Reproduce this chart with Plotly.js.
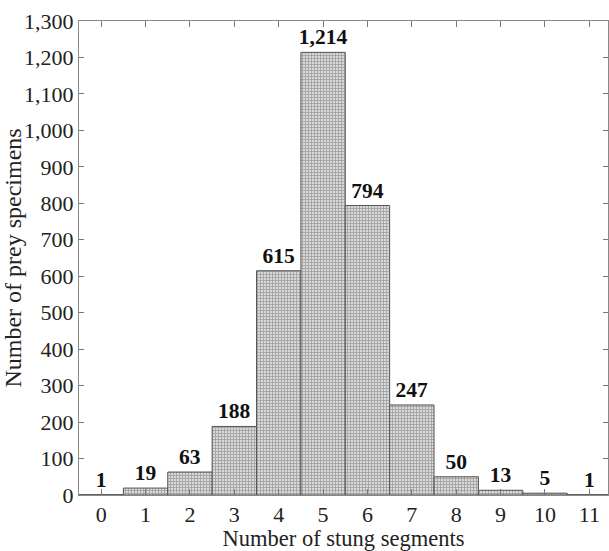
<!DOCTYPE html>
<html>
<head>
<meta charset="utf-8">
<script src="https://cdn.plot.ly/plotly-3.0.1.min.js"></script>
<style>html,body{margin:0;padding:0;background:#fff;}#chart{width:609px;height:551px;}</style>
</head>
<body>
<div id="chart"></div>
<script>
var segments = [0, 1, 2, 3, 4, 5, 6, 7, 8, 9, 10, 11];
var specimens = [1, 19, 63, 188, 615, 1214, 794, 247, 50, 13, 5, 1];
var xTickLabels = ["0","1","2","3","4","5","6","7","8","9","10","11"];
var yTickValues = [0,100,200,300,400,500,600,700,800,900,1000,1100,1200,1300];

var serif = '"Liberation Serif", "Times New Roman", "DejaVu Serif", serif';

var trace = {
  type: 'bar',
  x: segments,
  y: specimens,
  width: 1,
  marker: {
    color: '#d0d0d0',
    line: {color: '#555', width: 1},
    pattern: {shape: '+', size: 3, solidity: 0.5, fgcolor: '#a2a2a2', bgcolor: '#dadada', fillmode: 'replace'}
  },
  text: specimens.map(function(v){ return v.toLocaleString('en-US'); }),
  textposition: 'outside',
  constraintext: 'none',
  textfont: {family: serif, size: 21.5, color: '#111', weight: 'bold'},
  cliponaxis: false,
  hoverinfo: 'none'
};

var layout = {
  width: 609, height: 551,
  margin: {l: 79, r: 1, t: 21, b: 56},
  paper_bgcolor: '#fff', plot_bgcolor: '#fff',
  font: {family: serif, size: 22, color: '#222'},
  showlegend: false,
  bargap: 0,
  xaxis: {
    range: [-0.5, 11.42],
    tickvals: segments,
    ticktext: xTickLabels,
    ticks: 'inside', ticklen: 6, tickcolor: '#777', tickwidth: 1,
    showline: true, linecolor: '#888', linewidth: 1, mirror: 'ticks',
    showgrid: false, zeroline: false,
    tickfont: {family: serif, size: 22, color: '#222'},
    title: {text: 'Number of stung segments', font: {family: serif, size: 22.5, color: '#222'}, standoff: 4}
  },
  yaxis: {
    range: [0, 1300],
    tickvals: yTickValues,
    tickformat: ',',
    ticks: 'inside', ticklen: 5, tickcolor: '#777', tickwidth: 1,
    showline: true, linecolor: '#888', linewidth: 1, mirror: 'ticks',
    showgrid: false, zeroline: false,
    tickfont: {family: serif, size: 22, color: '#222'},
    title: {text: 'Number of prey specimens', font: {family: serif, size: 24, color: '#222'}, standoff: 3}
  }
};

Plotly.newPlot('chart', [trace], layout, {displayModeBar: false, staticPlot: true});
</script>
</body>
</html>
